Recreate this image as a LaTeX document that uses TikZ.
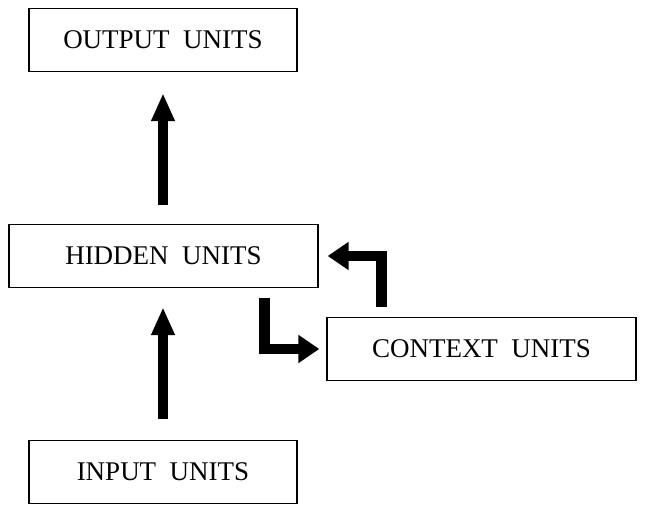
\documentclass[tikz,border=0pt]{standalone}
\usepackage{fontspec}
\setmainfont{Liberation Serif}
\usetikzlibrary{arrows.meta}

\begin{document}
\begin{tikzpicture}[x=0.5pt, y=0.5pt,
    unit/.style={draw, line width=0.7pt, minimum height=31.5pt, inner sep=0pt,
        font=\fontsize{13.5}{16}\selectfont},
    bigarrow/.style={line width=5pt, -{Triangle[width=11pt, length=14pt]}},
    elbowarrow/.style={line width=5.4pt, miter limit=10,
        -{Triangle[width=13.5pt, length=10.5pt]}}]
    \useasboundingbox (0,0) rectangle (645,-513);

    % Layers of the network
    \node[unit, minimum width=134pt] (output) at (163,-40) {OUTPUT\ \ UNITS};
    \node[unit, minimum width=154.5pt] (hidden) at (163.5,-256) {HIDDEN\ \ UNITS};
    \node[unit, minimum width=154.5pt] (context) at (481.5,-349) {CONTEXT\ \ UNITS};
    \node[unit, minimum width=134pt] (input) at (163,-472) {INPUT\ \ UNITS};

    % Feed-forward arrows
    \draw[bigarrow, shorten <=10.5pt, shorten >=9.5pt]
        (input.north) -- (input.north |- hidden.south);
    \draw[bigarrow, shorten <=9.5pt, shorten >=10.5pt]
        (hidden.north -| output.north) -- (output.south);

    % Copy to context and back
    \draw[elbowarrow, shorten <=5pt, shorten >=3.5pt]
        ([xshift=-27.25pt]hidden.south east) |- (context.west);
    \draw[elbowarrow, shorten <=5pt, shorten >=4.5pt]
        ([xshift=27.75pt]context.north west) |- (hidden.east);
\end{tikzpicture}
\end{document}
